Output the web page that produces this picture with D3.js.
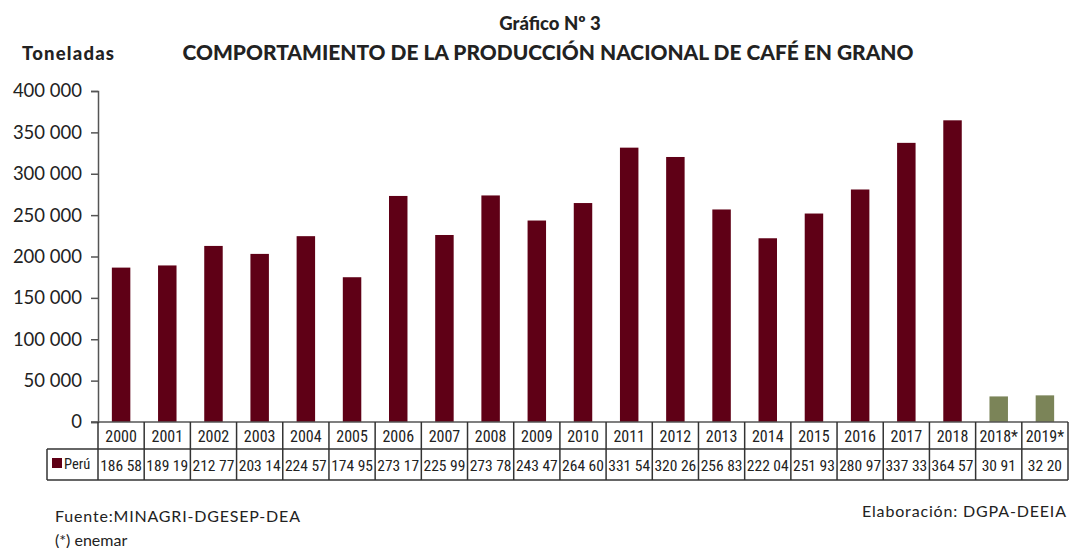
<!DOCTYPE html>
<html>
<head>
<meta charset="utf-8">
<script src="https://cdn.jsdelivr.net/npm/d3@7"></script>
<style>
  body { margin: 0; background: #fff; }
  svg { display: block; }
  text { font-family: Lato, "Open Sans", sans-serif; fill: #222; }
  .cell { font-family: "Liberation Sans Narrow", "Roboto Condensed", Lato, sans-serif; }
</style>
</head>
<body>
<svg id="chart" width="1070" height="548"></svg>
<script>
const categories = ["2000","2001","2002","2003","2004","2005","2006","2007","2008","2009","2010","2011","2012","2013","2014","2015","2016","2017","2018","2018*","2019*"];
const values = [186580,189190,212770,203140,224570,174950,273170,225990,273780,243470,264600,331540,320260,256830,222040,251930,280970,337330,364570,30910,32200];
const valueLabels = ["186 58","189 19","212 77","203 14","224 57","174 95","273 17","225 99","273 78","243 47","264 60","331 54","320 26","256 83","222 04","251 93","280 97","337 33","364 57","30 91","32 20"];
const estimated = [false,false,false,false,false,false,false,false,false,false,false,false,false,false,false,false,false,false,false,true,true];
const yTicks = [0,50000,100000,150000,200000,250000,300000,350000,400000];

(function () {
const svg = d3.select("#chart");
const mLeft = 98, mRight = 1068, mTop = 91, mBottom = 422;
const maroon = "#5f0016", olive = "#7b8458", border = "#333";

const x = d3.scaleBand().domain(categories).range([mLeft, mRight]).paddingInner(0.6).paddingOuter(0.3);
const xc = d3.scaleBand().domain(categories).range([mLeft, mRight]).padding(0);
const y = d3.scaleLinear().domain([0, 400000]).range([mBottom, mTop]);

const fmt = v => d3.format(",")(v).replace(/,/g, " ");

// y axis
const yAxis = svg.append("g").attr("transform", `translate(${mLeft},0)`)
  .call(d3.axisLeft(y).tickValues(yTicks).tickFormat(fmt).tickSize(7).tickPadding(9));
yAxis.select(".domain").attr("stroke", "#555").attr("stroke-width", 1.5);
yAxis.selectAll(".tick line").attr("stroke", "#555").attr("stroke-width", 1.5);
yAxis.selectAll(".tick text").style("font-family", "Lato, sans-serif").style("font-size", "18.5px").attr("fill", "#222");

// bars
svg.append("g").selectAll("rect").data(categories).join("rect")
  .attr("x", d => x(d))
  .attr("width", x.bandwidth())
  .attr("y", (d, i) => y(values[i]))
  .attr("height", (d, i) => y(0) - y(values[i]))
  .attr("fill", (d, i) => estimated[i] ? olive : maroon);

// baseline
svg.append("line").attr("x1", mLeft - 7).attr("x2", mRight).attr("y1", mBottom).attr("y2", mBottom)
  .attr("stroke", "#555").attr("stroke-width", 1.5);

// data table
const row1Top = mBottom, row1Bot = 449, row2Bot = 480, legLeft = 47;
const tg = svg.append("g");
tg.append("line").attr("x1", legLeft).attr("x2", mRight).attr("y1", row1Bot).attr("y2", row1Bot).attr("stroke", border).attr("stroke-width", 1.5);
tg.append("line").attr("x1", legLeft).attr("x2", mRight).attr("y1", row2Bot).attr("y2", row2Bot).attr("stroke", border).attr("stroke-width", 1.5);
const vx = categories.map(c => xc(c)).concat([mRight]);
tg.selectAll("line.v").data(vx).join("line").attr("class", "v")
  .attr("x1", d => d).attr("x2", d => d).attr("y1", row1Top).attr("y2", row2Bot)
  .attr("stroke", border).attr("stroke-width", 1.5);
tg.append("line").attr("x1", legLeft).attr("x2", legLeft).attr("y1", row1Bot).attr("y2", row2Bot).attr("stroke", border).attr("stroke-width", 1.5);

tg.selectAll("text.yr").data(categories).join("text").attr("class", "cell yr")
  .attr("x", d => xc(d) + xc.bandwidth() / 2).attr("y", 442)
  .attr("text-anchor", "middle").style("font-size", "16px").text(d => d);
tg.selectAll("text.val").data(valueLabels).join("text").attr("class", "cell val")
  .attr("x", (d, i) => xc(categories[i]) + xc.bandwidth() / 2).attr("y", 471)
  .attr("text-anchor", "middle").style("font-size", "15.5px").text(d => d);
tg.append("rect").attr("x", 52).attr("y", 458).attr("width", 10).attr("height", 10).attr("fill", maroon);
tg.append("text").attr("class", "cell").attr("x", 64).attr("y", 469).style("font-size", "14.5px").text("Perú");

// titles
svg.append("text").attr("x", 550).attr("y", 30).attr("text-anchor", "middle")
  .style("font-size", "18.5px").style("font-weight", "900").text("Gráfico Nº 3");
svg.append("text").attr("x", 548).attr("y", 60).attr("text-anchor", "middle")
  .style("font-size", "21px").style("font-weight", "900").attr("textLength", 731).attr("lengthAdjust", "spacingAndGlyphs")
  .text("COMPORTAMIENTO DE LA PRODUCCIÓN NACIONAL DE CAFÉ EN GRANO");
svg.append("text").attr("x", 22).attr("y", 60)
  .style("font-size", "18.5px").style("font-weight", "900").attr("textLength", 92).text("Toneladas");

// footer
svg.append("text").attr("x", 55).attr("y", 522).style("font-size", "16px").attr("textLength", 245).text("Fuente:MINAGRI-DGESEP-DEA");
svg.append("text").attr("x", 55).attr("y", 546).style("font-size", "16px").text("(*) enemar");
svg.append("text").attr("x", 1066).attr("y", 517).attr("text-anchor", "end").style("font-size", "16px").attr("textLength", 204).text("Elaboración: DGPA-DEEIA");
})();
</script>
</body>
</html>
